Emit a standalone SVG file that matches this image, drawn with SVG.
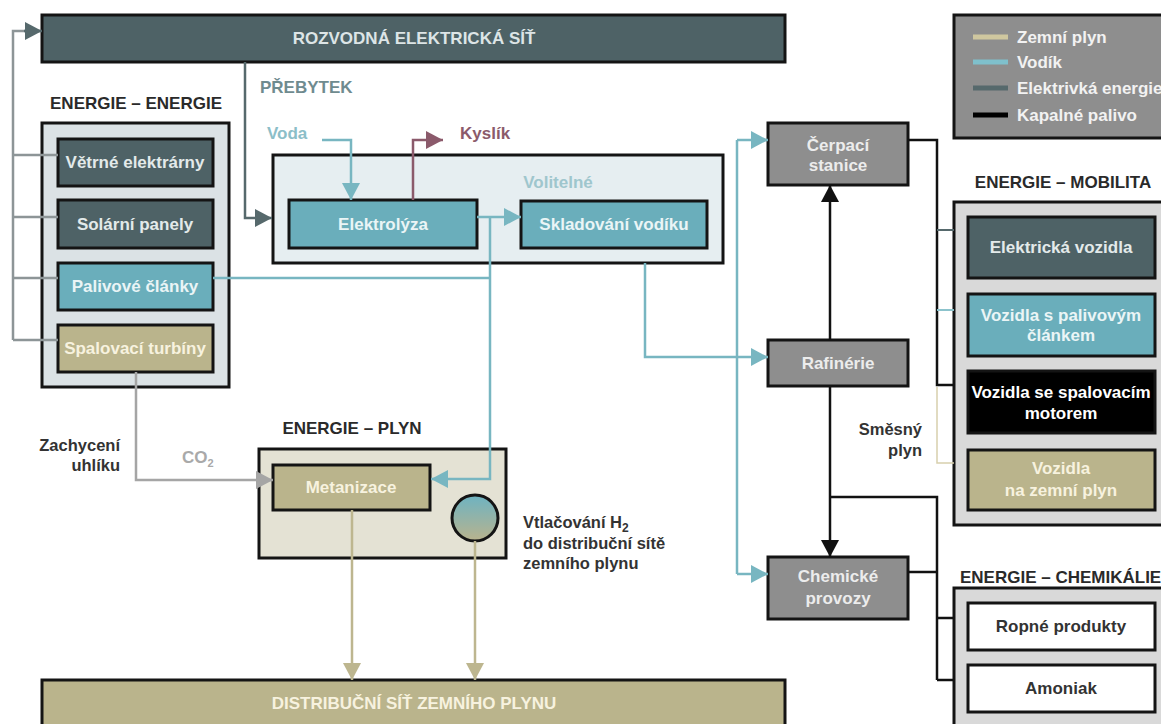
<svg xmlns="http://www.w3.org/2000/svg" width="1161" height="724" viewBox="0 0 1161 724">
<defs>
<style>
text{font-family:"Liberation Sans",Arial,sans-serif;font-weight:bold;font-size:17px;}
.box{stroke:#141414;stroke-width:3;}
.c{text-anchor:middle;}
.hd{fill:#2a2a2a;}
.dark{fill:#4e6266;}
.teal{fill:#6aaebb;}
.tan{fill:#bab48c;}
.gray{fill:#8e8e8e;}
.tw{fill:#e3eaea;}
.tt{fill:#eaf5f6;}
.tn{fill:#f7f2df;}
.tg{fill:#ececec;}
.note{fill:#333;font-size:16.5px;}
.ln{fill:none;stroke-width:2.5;}
.el{stroke:#56696c;}
.lg{stroke:#8d9597;}
.h2{stroke:#78b6c1;}
.gas{stroke:#bdb68f;}
.ox{stroke:#8b5a6b;}
.co{stroke:#a5a5a5;}
.bk{stroke:#111;}
</style>
<marker id="aEl" markerUnits="userSpaceOnUse" markerWidth="18" markerHeight="18" viewBox="0 0 18 18" refX="17" refY="9" orient="auto"><path d="M0,0 L17,9 L0,18 z" fill="#56696c"/></marker>
<marker id="aH2" markerUnits="userSpaceOnUse" markerWidth="18" markerHeight="18" viewBox="0 0 18 18" refX="17" refY="9" orient="auto"><path d="M0,0 L17,9 L0,18 z" fill="#78b6c1"/></marker>
<marker id="aGas" markerUnits="userSpaceOnUse" markerWidth="18" markerHeight="18" viewBox="0 0 18 18" refX="17" refY="9" orient="auto"><path d="M0,0 L17,9 L0,18 z" fill="#bdb68f"/></marker>
<marker id="aOx" markerUnits="userSpaceOnUse" markerWidth="18" markerHeight="18" viewBox="0 0 18 18" refX="17" refY="9" orient="auto"><path d="M0,0 L17,9 L0,18 z" fill="#8b5a6b"/></marker>
<marker id="aCo" markerUnits="userSpaceOnUse" markerWidth="18" markerHeight="18" viewBox="0 0 18 18" refX="17" refY="9" orient="auto"><path d="M0,0 L17,9 L0,18 z" fill="#a5a5a5"/></marker>
<marker id="aBk" markerUnits="userSpaceOnUse" markerWidth="18" markerHeight="18" viewBox="0 0 18 18" refX="17" refY="9" orient="auto"><path d="M0,0 L17,9 L0,18 z" fill="#111"/></marker>
<linearGradient id="gInj" x1="0" y1="0" x2="0" y2="1"><stop offset="0" stop-color="#6db3c2"/><stop offset="1" stop-color="#b9b38d"/></linearGradient>
</defs>
<rect width="1161" height="724" fill="#ffffff"/>

<g id="grid">
<rect class="box dark" x="42" y="15" width="743" height="47"/>
<text class="c" x="414" y="44" fill="#dde5e6">ROZVODNÁ ELEKTRICKÁ SÍŤ</text>
</g>

<g id="legend">
<rect class="box gray" x="954" y="15" width="222" height="123"/>
<path stroke="#cfc79f" stroke-width="5" d="M973,37 H1008"/>
<path stroke="#7fc0cc" stroke-width="5" d="M973,62 H1008"/>
<path stroke="#56696c" stroke-width="5" d="M973,88 H1008"/>
<path stroke="#000" stroke-width="5" d="M973,115 H1008"/>
<text x="1017" y="43" fill="#f2f2f2">Zemní plyn</text>
<text x="1017" y="68" fill="#f2f2f2">Vodík</text>
<text x="1017" y="94" fill="#f2f2f2">Elektrivká energie</text>
<text x="1017" y="121" fill="#f2f2f2">Kapalné palivo</text>
</g>

<g id="energie-energie">
<text class="hd c" x="136" y="109">ENERGIE – ENERGIE</text>
<rect class="box" x="42" y="123" width="187" height="264" fill="#dbe2e5"/>
</g>
<g id="vetrne">
<rect class="box dark" x="58" y="139" width="155" height="47"/>
<text class="c tw" x="135" y="168">Větrné elektrárny</text>
</g>
<g id="solarni">
<rect class="box dark" x="58" y="200" width="155" height="48"/>
<text class="c tw" x="135" y="230">Solární panely</text>
</g>
<g id="palivove">
<rect class="box teal" x="58" y="263" width="155" height="47"/>
<text class="c tt" x="135" y="292">Palivové články</text>
</g>
<g id="spalovaci">
<rect class="box tan" x="58" y="325" width="155" height="47"/>
<text class="c tn" x="135" y="354">Spalovací turbíny</text>
</g>

<g id="volitelne">
<rect class="box" x="273" y="155" width="450" height="108" fill="#e6eef1"/>
<text class="c" x="558" y="188" fill="#9fc6cd">Volitelné</text>
</g>
<g id="elektrolyza">
<rect class="box teal" x="289" y="200" width="188" height="48"/>
<text class="c tt" x="383" y="230">Elektrolýza</text>
</g>
<g id="skladovani">
<rect class="box teal" x="521" y="201" width="186" height="47"/>
<text class="c tt" x="614" y="230">Skladování vodíku</text>
</g>

<g id="energie-plyn">
<text class="hd c" x="352" y="434">ENERGIE – PLYN</text>
<rect class="box" x="259" y="449" width="247" height="109" fill="#e4e2d4"/>
</g>
<g id="metanizace">
<rect class="box tan" x="273" y="465" width="157" height="45"/>
<text class="c tn" x="351" y="493">Metanizace</text>
</g>
<g id="vtlacovani">
<circle cx="475" cy="518" r="23" fill="url(#gInj)" stroke="#141414" stroke-width="3"/>
</g>

<g id="distribucni-sit">
<rect class="box tan" x="42" y="680" width="743" height="60"/>
<text class="c tn" x="414" y="709">DISTRIBUČNÍ SÍŤ ZEMNÍHO PLYNU</text>
</g>

<g id="cerpaci">
<rect class="box gray" x="768" y="123" width="140" height="62"/>
<text class="c tg" x="838" y="151">Čerpací</text>
<text class="c tg" x="838" y="171">stanice</text>
</g>
<g id="rafinerie">
<rect class="box gray" x="768" y="340" width="140" height="46"/>
<text class="c tg" x="838" y="369">Rafinérie</text>
</g>
<g id="chemicke">
<rect class="box gray" x="768" y="557" width="140" height="62"/>
<text class="c tg" x="838" y="582">Chemické</text>
<text class="c tg" x="838" y="604">provozy</text>
</g>

<g id="energie-mobilita">
<text class="hd c" x="1063" y="188">ENERGIE – MOBILITA</text>
<rect class="box" x="954" y="202" width="222" height="323" fill="#d9d9d9"/>
</g>
<g id="elektricka-vozidla">
<rect class="box dark" x="968" y="217" width="187" height="61"/>
<text class="c tw" x="1061" y="253">Elektrická vozidla</text>
</g>
<g id="vozidla-palivovy">
<rect class="box teal" x="968" y="294" width="187" height="62"/>
<text class="c tt" x="1061" y="321">Vozidla s palivovým</text>
<text class="c tt" x="1061" y="341">článkem</text>
</g>
<g id="vozidla-spalovaci">
<rect class="box" x="968" y="371" width="187" height="62" fill="#000"/>
<text class="c" x="1061" y="398" fill="#fff">Vozidla se spalovacím</text>
<text class="c" x="1061" y="419" fill="#fff">motorem</text>
</g>
<g id="vozidla-plyn">
<rect class="box tan" x="968" y="450" width="187" height="60"/>
<text class="c tn" x="1061" y="474">Vozidla</text>
<text class="c tn" x="1061" y="496">na zemní plyn</text>
</g>

<g id="energie-chemikalie">
<text class="hd" x="960" y="583">ENERGIE – CHEMIKÁLIE</text>
<rect class="box" x="954" y="588" width="222" height="150" fill="#d9d9d9"/>
</g>
<g id="ropne-produkty">
<rect class="box" x="968" y="603" width="187" height="47" fill="#fff"/>
<text class="c" x="1061" y="632" fill="#333">Ropné produkty</text>
</g>
<g id="amoniak">
<rect class="box" x="968" y="665" width="187" height="47" fill="#fff"/>
<text class="c" x="1061" y="694" fill="#333">Amoniak</text>
</g>

<g id="labels">
<text x="260" y="93" fill="#6f8b8f">PŘEBYTEK</text>
<text x="267" y="139" fill="#8cbec8">Voda</text>
<text x="460" y="139" fill="#8b5b6b">Kyslík</text>
<text class="note" x="120" y="451" text-anchor="end">Zachycení</text>
<text class="note" x="120" y="471" text-anchor="end">uhlíku</text>
<text x="182" y="463" font-size="16" fill="#a9a9a9" font-weight="normal">CO<tspan font-size="11" dy="4">2</tspan></text>
<text class="note" x="523" y="528">Vtlačování H<tspan font-size="12" dy="4">2</tspan></text>
<text class="note" x="523" y="549">do distribuční sítě</text>
<text class="note" x="523" y="569">zemního plynu</text>
<text class="note" x="922" y="435" text-anchor="end">Směsný</text>
<text class="note" x="922" y="456" text-anchor="end">plyn</text>
</g>

<g id="connectors">
<path class="ln lg" d="M13,340 V31 H26"/>
<path class="ln el" d="M24,31 H42" marker-end="url(#aEl)"/>
<path class="ln lg" d="M13,155 H58 M13,217 H58 M13,278 H58 M13,340 H58"/>
<path class="ln el" d="M245,62 V218 H272" marker-end="url(#aEl)"/>
<path class="ln h2" d="M322,140 H351 V200" marker-end="url(#aH2)"/>
<path class="ln ox" d="M413,200 V140 H443" marker-end="url(#aOx)"/>
<path class="ln h2" d="M477,217 H521" marker-end="url(#aH2)"/>
<path class="ln h2" d="M490,217 V479 H431" marker-end="url(#aH2)"/>
<path class="ln h2" d="M213,278 H490"/>
<path class="ln h2" d="M645,263 V357 H768" marker-end="url(#aH2)"/>
<path class="ln h2" d="M737,140 V574"/>
<path class="ln h2" d="M737,140 H768" marker-end="url(#aH2)"/>
<path class="ln h2" d="M737,574 H768" marker-end="url(#aH2)"/>
<path class="ln co" d="M136,372 V480 H273" marker-end="url(#aCo)"/>
<path class="ln gas" d="M352,510 V680" marker-end="url(#aGas)"/>
<path class="ln gas" d="M475,541 V680" marker-end="url(#aGas)"/>
<path class="ln bk" d="M830,340 V185" marker-end="url(#aBk)"/>
<path class="ln bk" d="M830,387 V557" marker-end="url(#aBk)"/>
<path class="ln bk" d="M830,497 H937 V680"/>
<path class="ln bk" d="M908,140 H937 V385 H954"/>
<path class="ln bk" d="M908,572 H937 M937,618 H954 M937,680 H954"/>
<path fill="none" stroke="#56696c" stroke-width="2" d="M937,230 H954"/>
<path fill="none" stroke="#8cc3cc" stroke-width="2" d="M937,310 H954"/>
<path fill="none" stroke="#d8d0ad" stroke-width="1.5" d="M937,387 V463 H954"/>
</g>
</svg>
